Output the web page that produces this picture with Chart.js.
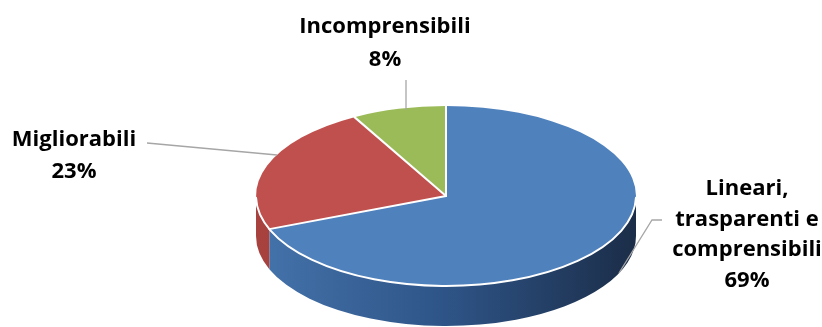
<!DOCTYPE html>
<html>
<head>
<meta charset="utf-8">
<script src="https://cdn.jsdelivr.net/npm/chart.js@4"></script>
<style>
  html, body { margin: 0; padding: 0; background: #ffffff; }
  #wrap { width: 822px; height: 327px; }
</style>
</head>
<body>
<div id="wrap"><canvas id="c" width="822" height="327"></canvas></div>
<script>
// ---- data ----
const categories = ["Lineari, trasparenti e comprensibili", "Migliorabili", "Incomprensibili"];
const values = [69, 23, 8];
const labelLines = [
  ["Lineari,", "trasparenti e", "comprensibili"],
  ["Migliorabili"],
  ["Incomprensibili"]
];
const topColors = ["#4f81bd", "#c0504d", "#9bbb59"];
const sideColors = [
  ["#4473ab", "#2e5487", "#1b2d48"],
  ["#a8423f", "#963a37", "#7e302e"],
  ["#86a34a", "#77923f", "#657c35"]
];

// ---- layout (view geometry, not data) ----
const VIEW = { cx: 446, cy: 196, rx: 190, ry: 90, depth: 40 };
const LABEL_LAYOUT = [
  { x: 747, y: 189, lh: 30.5, line: [[662, 220], [652, 220], [619, 273]] },
  { x: 74, y: 140, lh: 32, line: [[147, 143], [277, 155]] },
  { x: 385, y: 27, lh: 33, line: [[406, 80], [406, 110]] }
];
const FONT = "bold 22px 'Open Sans', sans-serif";

function frontRange(a, b) {
  const res = [];
  for (let k = -1; k <= 1; k++) {
    const lo = Math.max(a, k * 2 * Math.PI);
    const hi = Math.min(b, k * 2 * Math.PI + Math.PI);
    if (hi > lo) res.push([lo - k * 2 * Math.PI, hi - k * 2 * Math.PI]);
  }
  return res;
}

const tiltPlugin = {
  id: 'tilt',
  beforeDatasetsDraw(chart) {
    const ctx = chart.ctx;
    const meta = chart.getDatasetMeta(0);
    const first = meta.data[0];
    const r = first.outerRadius;
    const { cx, cy, rx, ry, depth } = VIEW;
    meta.data.forEach((arc, i) => {
      frontRange(arc.startAngle, arc.endAngle).forEach(([a, b]) => {
        const g = ctx.createLinearGradient(cx - rx, 0, cx + rx, 0);
        g.addColorStop(0, sideColors[i][0]);
        g.addColorStop(0.5, sideColors[i][1]);
        g.addColorStop(1, sideColors[i][2]);
        ctx.save();
        ctx.beginPath();
        ctx.ellipse(cx, cy, rx, ry, 0, a, b, false);
        ctx.ellipse(cx, cy + depth, rx, ry, 0, b, a, true);
        ctx.closePath();
        ctx.fillStyle = g;
        ctx.fill();
        ctx.restore();
      });
    });
    ctx.save();
    ctx.translate(cx, cy);
    ctx.scale(rx / r, ry / r);
    ctx.translate(-first.x, -first.y);
  },
  afterDatasetsDraw(chart) {
    const ctx = chart.ctx;
    ctx.restore();
    const meta = chart.getDatasetMeta(0);
    const { cx, cy, rx, ry } = VIEW;
    ctx.save();
    ctx.strokeStyle = "#ffffff";
    ctx.lineWidth = 2;
    ctx.lineCap = "round";
    meta.data.forEach((arc) => {
      const t = arc.startAngle;
      ctx.beginPath();
      ctx.moveTo(cx, cy);
      ctx.lineTo(cx + rx * Math.cos(t), cy + ry * Math.sin(t));
      ctx.stroke();
    });
    ctx.beginPath();
    ctx.ellipse(cx, cy, rx, ry, 0, 0.02, Math.PI - 0.02, false);
    ctx.stroke();
    ctx.restore();

    ctx.save();
    ctx.strokeStyle = "#a6a6a6";
    ctx.lineWidth = 1.3;
    LABEL_LAYOUT.forEach((L) => {
      ctx.beginPath();
      L.line.forEach((p, k) => (k ? ctx.lineTo(p[0], p[1]) : ctx.moveTo(p[0], p[1])));
      ctx.stroke();
    });
    ctx.restore();

    const total = values.reduce((s, v) => s + v, 0);
    ctx.save();
    ctx.fillStyle = "#000000";
    ctx.font = FONT;
    ctx.textAlign = "center";
    ctx.textBaseline = "middle";
    labelLines.forEach((lines, i) => {
      const L = LABEL_LAYOUT[i];
      const all = lines.concat([Math.round(values[i] / total * 100) + "%"]);
      all.forEach((s, k) => ctx.fillText(s, L.x, L.y + k * L.lh));
    });
    ctx.restore();
  }
};

new Chart(document.getElementById('c'), {
  type: 'pie',
  data: {
    labels: categories,
    datasets: [{
      data: values,
      backgroundColor: topColors,
      borderWidth: 0
    }]
  },
  options: {
    responsive: false,
    animation: false,
    rotation: 0,
    plugins: { legend: { display: false }, tooltip: { enabled: false } },
    layout: { padding: 0 }
  },
  plugins: [tiltPlugin]
});
</script>
</body>
</html>
